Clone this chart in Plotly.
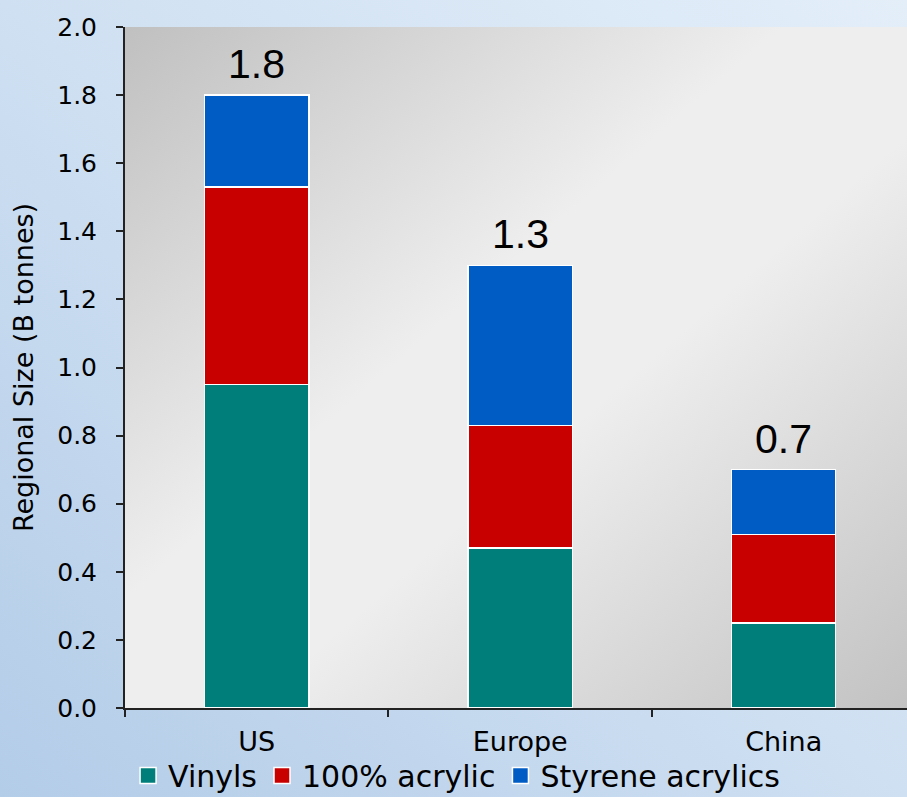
import base64
import plotly.graph_objects as go

# ---- data ----
regions = ["US", "Europe", "China"]
vinyls = [0.95, 0.47, 0.25]
acrylic_100 = [0.58, 0.36, 0.26]
styrene_acrylics = [0.27, 0.47, 0.19]
series_names = ["Vinyls", "100% acrylic", "Styrene acrylics"]
y_ticks = [0.0, 0.2, 0.4, 0.6, 0.8, 1.0, 1.2, 1.4, 1.6, 1.8, 2.0]

colors = ["#007f7a", "#c80000", "#005cc5"]
series = [vinyls, acrylic_100, styrene_acrylics]
totals = [round(a + b + c, 1) for a, b, c in zip(vinyls, acrylic_100, styrene_acrylics)]

W, H = 907, 797
ML, MR, MT, MB = 125, 0, 27, 89
PW, PH = W - ML - MR, H - MT - MB


def grad_svg(x1, y1, x2, y2, stops):
    st = "".join(f'<stop offset="{o}" stop-color="{c}"/>' for o, c in stops)
    svg = (
        '<svg xmlns="http://www.w3.org/2000/svg" width="100" height="100" '
        'viewBox="0 0 100 100" preserveAspectRatio="none">'
        f'<defs><linearGradient id="g" x1="{x1}" y1="{y1}" x2="{x2}" y2="{y2}">{st}</linearGradient></defs>'
        '<rect x="0" y="0" width="100" height="100" fill="url(#g)"/></svg>'
    )
    return "data:image/svg+xml;base64," + base64.b64encode(svg.encode()).decode()


page_bg = grad_svg(0, 1, 1, 0, [(0, "#b3cce8"), (0.5, "#cfe0f2"), (1, "#e3eef9")])
plot_bg = grad_svg(0, 0, 1, 1, [(0, "#c0c0c0"), (0.42, "#eeeeee"), (0.58, "#eeeeee"), (1, "#c2c2c2")])

fig = go.Figure()
for name, vals, col in zip(series_names, series, colors):
    fig.add_trace(go.Bar(
        x=regions, y=vals, name=name, width=0.395,
        marker=dict(color=col, line=dict(color="white", width=1.5)),
        showlegend=False, hoverinfo="skip",
    ))
    fig.add_trace(go.Scatter(
        x=[None], y=[None], mode="markers", name=name,
        marker=dict(symbol="square", size=16, color=col, line=dict(color="white", width=1.5)),
        showlegend=True,
    ))

for reg, tot in zip(regions, totals):
    fig.add_annotation(
        x=reg, y=tot, text=f"{tot:.1f}", showarrow=False,
        yanchor="bottom", yshift=6,
        font=dict(family="Liberation Sans", size=41, color="black"),
    )

fig.update_layout(
    width=W, height=H,
    margin=dict(l=ML, r=MR, t=MT, b=MB, pad=0, autoexpand=False),
    paper_bgcolor="#cfe0f2", plot_bgcolor="#e6e6e6",
    barmode="stack", bargap=0.6,
    font=dict(family="DejaVu Sans", color="black"),
    images=[
        dict(source=page_bg, xref="paper", yref="paper",
             x=-ML / PW, y=1 + MT / PH, sizex=W / PW, sizey=H / PH,
             xanchor="left", yanchor="top", sizing="stretch", layer="below"),
        dict(source=plot_bg, xref="paper", yref="paper",
             x=0, y=1, sizex=1, sizey=1,
             xanchor="left", yanchor="top", sizing="stretch", layer="below"),
    ],
    legend=dict(
        orientation="h", x=0.424, xanchor="center", y=-0.099, yanchor="middle",
        font=dict(family="DejaVu Sans", size=30, color="black"),
        bgcolor="rgba(0,0,0,0)", itemwidth=30, tracegroupgap=0, traceorder="normal",
    ),
    xaxis=dict(
        range=[-0.5, 2.468], showgrid=False, zeroline=False,
        showline=True, linecolor="#222222", linewidth=2,
        ticks="outside", tickson="boundaries", ticklen=7, tickwidth=2, tickcolor="#222222",
        tickfont=dict(family="DejaVu Sans", size=27, color="black"),
        ticklabelstandoff=9,
        automargin=False,
    ),
    yaxis=dict(
        range=[0, 2.0], tickvals=y_ticks, tickformat=".1f",
        showgrid=False, zeroline=False,
        showline=True, linecolor="#222222", linewidth=2,
        ticks="outside", ticklen=7, tickwidth=2, tickcolor="#222222",
        tickfont=dict(family="DejaVu Sans", size=25, color="black"),
        ticklabelstandoff=14,
        title=dict(text="Regional Size (B tonnes)", standoff=16,
                   font=dict(family="DejaVu Sans", size=27, color="black")),
        automargin=False,
    ),
)

fig.write_html("out.html")
